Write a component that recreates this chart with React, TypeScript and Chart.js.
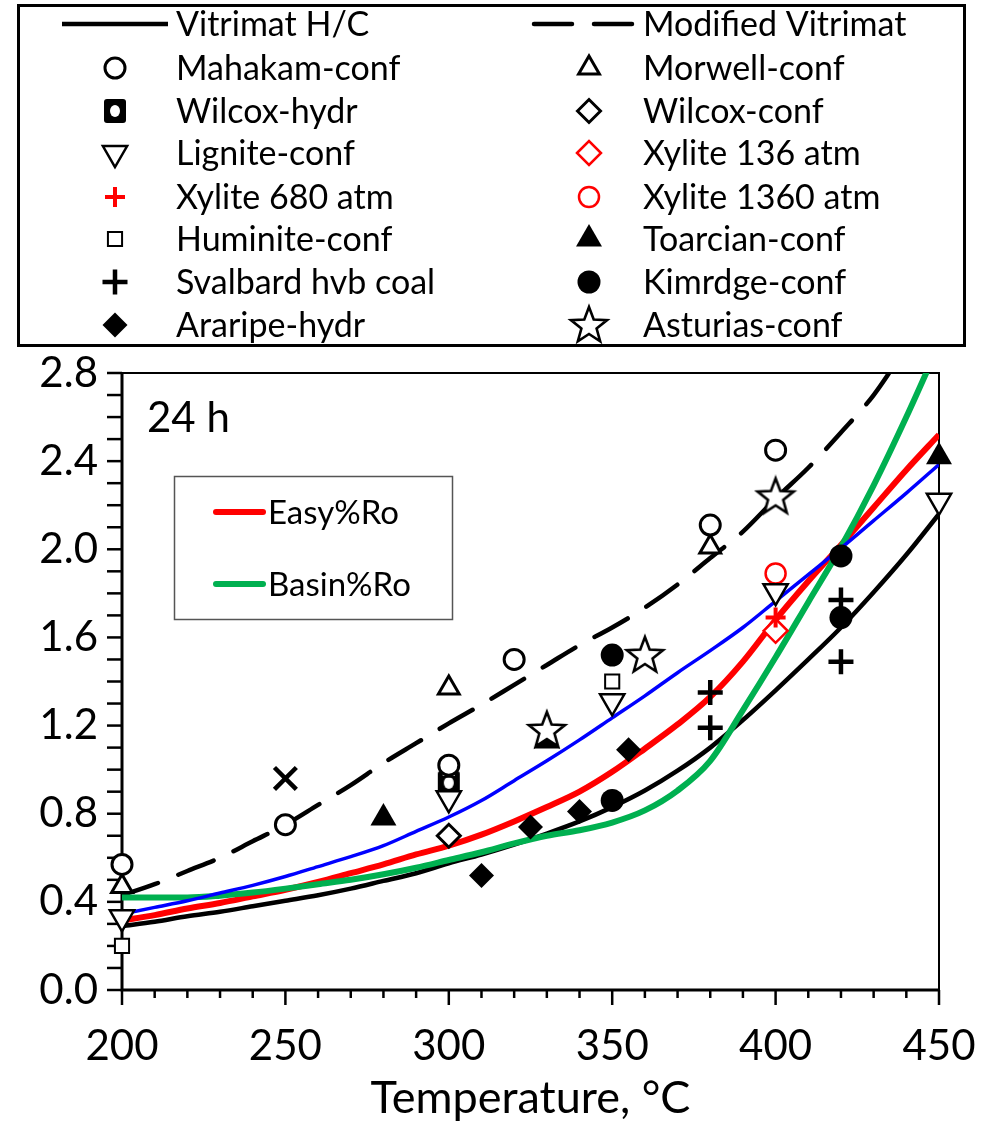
import React, { useEffect, useRef } from 'react';
import { Chart, registerables } from 'chart.js';
import { drawPoint } from 'chart.js/helpers';

Chart.register(...registerables);

const FONT = 'Lato, "Open Sans", sans-serif';

// ---- axis ticks ----
const xTicks = [200, 250, 300, 350, 400, 450];
const yTicks = [0, 0.4, 0.8, 1.2, 1.6, 2.0, 2.4, 2.8];

// ---- model curves (temperature, °C) ----
const curveT = [200, 210, 220, 230, 240, 250, 260, 270, 280, 290, 300, 310, 320, 330, 340, 350, 360, 370, 380, 390, 400, 410, 420, 430, 440, 450];
const vitrimatHC = [0.29, 0.31, 0.335, 0.355, 0.38, 0.405, 0.43, 0.46, 0.495, 0.53, 0.575, 0.615, 0.66, 0.71, 0.765, 0.83, 0.905, 0.995, 1.1, 1.225, 1.36, 1.5, 1.645, 1.805, 1.975, 2.16];
const modifiedVitrimat = [0.43, 0.48, 0.54, 0.6, 0.675, 0.75, 0.84, 0.93, 1.03, 1.12, 1.21, 1.295, 1.385, 1.475, 1.565, 1.645, 1.735, 1.84, 1.96, 2.08, 2.23, 2.37, 2.53, 2.7, 2.92, 3.15];
const easyRo = [0.315, 0.34, 0.37, 0.395, 0.425, 0.455, 0.49, 0.53, 0.57, 0.615, 0.655, 0.705, 0.765, 0.83, 0.9, 0.99, 1.095, 1.205, 1.33, 1.49, 1.68, 1.855, 2.02, 2.19, 2.36, 2.52];
const basinRo = [0.42, 0.42, 0.42, 0.428, 0.442, 0.46, 0.48, 0.5, 0.525, 0.555, 0.59, 0.625, 0.665, 0.7, 0.725, 0.76, 0.815, 0.905, 1.04, 1.27, 1.51, 1.76, 2.01, 2.29, 2.6, 2.93];
const blueCurve = [0.345, 0.375, 0.405, 0.44, 0.475, 0.515, 0.56, 0.605, 0.655, 0.72, 0.785, 0.86, 0.95, 1.04, 1.135, 1.235, 1.335, 1.44, 1.54, 1.645, 1.765, 1.885, 2.005, 2.13, 2.255, 2.385];

// ---- measured %Ro ----
const mahakamT = [200, 250, 300, 320, 380, 400];
const mahakamRo = [0.57, 0.75, 1.02, 1.5, 2.11, 2.45];
const morwellT = [200, 300, 380];
const morwellRo = [0.47, 1.37, 2.01];
const wilcoxHydrT = [300];
const wilcoxHydrRo = [0.94];
const wilcoxConfT = [300];
const wilcoxConfRo = [0.7];
const ligniteT = [200, 300, 350, 400, 450];
const ligniteRo = [0.33, 0.87, 1.31, 1.81, 2.22];
const xylite136T = [400];
const xylite136Ro = [1.63];
const xylite680T = [400];
const xylite680Ro = [1.69];
const xylite1360T = [400];
const xylite1360Ro = [1.89];
const huminiteT = [200, 300, 350];
const huminiteRo = [0.2, 1.0, 1.4];
const toarcianT = [280, 330, 450];
const toarcianRo = [0.78, 1.13, 2.42];
const svalbardT = [380, 380, 420, 420];
const svalbardRo = [1.35, 1.19, 1.77, 1.49];
const kimrdgeT = [350, 350, 420, 420];
const kimrdgeRo = [0.86, 1.52, 1.97, 1.69];
const araripeT = [310, 325, 340, 355];
const araripeRo = [0.52, 0.74, 0.81, 1.09];
const asturiasT = [330, 360, 400];
const asturiasRo = [1.18, 1.52, 2.24];
const otherT = [250];
const otherRo = [0.96];

const legendLeft = ['Vitrimat H/C', 'Mahakam-conf', 'Wilcox-hydr', 'Lignite-conf', 'Xylite 680 atm', 'Huminite-conf', 'Svalbard hvb coal', 'Araripe-hydr'];
const legendRight = ['Modified Vitrimat', 'Morwell-conf', 'Wilcox-conf', 'Xylite 136 atm', 'Xylite 1360 atm', 'Toarcian-conf', 'Kimrdge-conf', 'Asturias-conf'];
const innerLegend = ['Easy%Ro', 'Basin%Ro'];

function makeStar(): HTMLCanvasElement {
  const c = document.createElement('canvas');
  c.width = 44; c.height = 44;
  const g = c.getContext('2d')!;
  const cx = 22, cy = 23, R = 19, r = 8;
  g.beginPath();
  for (let i = 0; i < 10; i++) {
    const ang = -Math.PI / 2 + (i * Math.PI) / 5;
    const rr = i % 2 === 0 ? R : r;
    const px = cx + rr * Math.cos(ang);
    const py = cy + rr * Math.sin(ang);
    if (i === 0) g.moveTo(px, py); else g.lineTo(px, py);
  }
  g.closePath();
  g.fillStyle = '#fff';
  g.fill();
  g.lineWidth = 2.6;
  g.lineJoin = 'miter';
  g.strokeStyle = '#000';
  g.stroke();
  return c;
}

function makeWilcox(): HTMLCanvasElement {
  const c = document.createElement('canvas');
  c.width = 24; c.height = 26;
  const g = c.getContext('2d')!;
  g.fillStyle = '#000';
  g.beginPath();
  (g as any).roundRect ? (g as any).roundRect(1, 1, 22, 24, 3) : g.rect(1, 1, 22, 24);
  g.fill();
  g.fillStyle = '#fff';
  g.beginPath();
  g.ellipse(12, 13, 5, 6, 0, 0, Math.PI * 2);
  g.fill();
  return c;
}

const pts = (xs: number[], ys: number[]) => xs.map((x, i) => ({ x, y: ys[i] }));

function marker(label: string, xs: number[], ys: number[], style: any, radius: number, fill: string, border: string, bw: number, rotation = 0) {
  return {
    label,
    data: pts(xs, ys),
    showLine: false,
    pointStyle: style,
    pointRadius: radius,
    pointHoverRadius: radius,
    pointBackgroundColor: fill,
    pointBorderColor: border,
    pointBorderWidth: bw,
    pointRotation: rotation,
    borderColor: border,
    backgroundColor: fill,
    clip: false,
    order: 0,
  };
}

function curve(label: string, ys: number[], color: string, width: number, order: number, dash?: number[]) {
  return {
    label,
    data: pts(curveT, ys),
    borderColor: color,
    backgroundColor: color,
    borderWidth: width,
    borderDash: dash || [],
    borderCapStyle: dash ? 'round' : 'butt',
    pointRadius: 0,
    pointHoverRadius: 0,
    fill: false,
    cubicInterpolationMode: 'monotone',
    order,
  };
}

function drawMarker(ctx: CanvasRenderingContext2D, ds: any, x: number, y: number) {
  ctx.save();
  ctx.fillStyle = ds.pointBackgroundColor;
  ctx.strokeStyle = ds.pointBorderColor;
  ctx.lineWidth = ds.pointBorderWidth;
  ctx.setLineDash([]);
  drawPoint(ctx, { pointStyle: ds.pointStyle, rotation: ds.pointRotation || 0, radius: ds.pointRadius, borderWidth: ds.pointBorderWidth } as any, x, y);
  ctx.restore();
}

function drawLineSample(ctx: CanvasRenderingContext2D, ds: any, x1: number, x2: number, y: number, cap: CanvasLineCap) {
  ctx.save();
  ctx.strokeStyle = ds.borderColor;
  ctx.lineWidth = ds.borderWidth;
  ctx.lineCap = cap;
  ctx.setLineDash(ds.borderDash || []);
  ctx.beginPath();
  ctx.moveTo(x1, y);
  ctx.lineTo(x2, y);
  ctx.stroke();
  ctx.restore();
}

const decor = {
  id: 'decor',
  beforeDatasetsDraw(chart: any) {
    const { ctx, chartArea: a, scales } = chart;
    const x = scales.x, y = scales.y;
    ctx.save();
    ctx.strokeStyle = '#000';
    ctx.lineWidth = 2.5;
    for (let i = 0; i <= 28; i++) {
      const py = y.getPixelForValue(i / 10);
      ctx.beginPath();
      ctx.moveTo(a.left - 15, py);
      ctx.lineTo(a.left, py);
      ctx.stroke();
    }
    for (let t = 200; t <= 450; t += 10) {
      const px = x.getPixelForValue(t);
      const len = t % 50 === 0 ? 15 : 8;
      ctx.beginPath();
      ctx.moveTo(px, a.bottom);
      ctx.lineTo(px, a.bottom + len);
      ctx.stroke();
    }
    ctx.lineWidth = 2;
    ctx.beginPath();
    ctx.moveTo(a.left, a.top);
    ctx.lineTo(a.right, a.top);
    ctx.lineTo(a.right, a.bottom);
    ctx.stroke();
    ctx.lineWidth = 3;
    ctx.beginPath();
    ctx.moveTo(a.left, a.top - 1);
    ctx.lineTo(a.left, a.bottom);
    ctx.lineTo(a.right + 1, a.bottom);
    ctx.stroke();

    // "24 h"
    ctx.fillStyle = '#000';
    ctx.font = `42px ${FONT}`;
    ctx.textBaseline = 'alphabetic';
    ctx.fillText('24 h', 147, 432);
    ctx.restore();
  },
  afterDraw(chart: any) {
    const { ctx } = chart;
    const dsets = chart.data.datasets as any[];
    const find = (l: string) => dsets.find((d) => d.label === l);
    ctx.save();
    // inner legend box
    ctx.fillStyle = '#fff';
    ctx.fillRect(174.5, 476.5, 278, 143);
    ctx.strokeStyle = '#555';
    ctx.lineWidth = 1.5;
    ctx.strokeRect(174.5, 476.5, 278, 143);
    const innerY = [512, 584];
    ctx.font = `33px ${FONT}`;
    ctx.textBaseline = 'alphabetic';
    innerLegend.forEach((l, i) => {
      const ds = find(l);
      drawLineSample(ctx, ds, 216, 263, innerY[i], 'round');
      ctx.fillStyle = '#000';
      ctx.fillText(l, 268, innerY[i] + 12);
    });

    // top legend box
    ctx.strokeStyle = '#000';
    ctx.lineWidth = 3;
    ctx.strokeRect(18.5, 5.5, 946, 340);
    const rows = [24, 68, 111, 153, 197, 239, 282, 325];
    ctx.font = `34px ${FONT}`;
    const cols = [
      { labels: legendLeft, mx: 115, l1: 62, l2: 168, tx: 176 },
      { labels: legendRight, mx: 589, l1: 534, l2: 634, tx: 643 },
    ];
    cols.forEach((c) => {
      c.labels.forEach((l, i) => {
        const ds = find(l);
        const y = rows[i];
        if (ds.pointRadius === 0) {
          drawLineSample(ctx, ds, c.l1, c.l2, y, ds.borderDash && ds.borderDash.length ? 'round' : 'butt');
        } else {
          drawMarker(ctx, ds, c.mx, y);
        }
        ctx.fillStyle = '#000';
        ctx.fillText(l, c.tx, y + 12);
      });
    });
    ctx.restore();
  },
};

export default function App() {
  const ref = useRef<HTMLCanvasElement>(null);
  useEffect(() => {
    if (!ref.current) return;
    const star = makeStar();
    const wilcox = makeWilcox();
    const datasets: any[] = [
      marker('Asturias-conf', asturiasT, asturiasRo, star, 19, '#fff', '#000', 2.6),
      marker('Lignite-conf', ligniteT, ligniteRo, 'triangle', 14, '#fff', '#000', 2.5, 180),
      marker('Mahakam-conf', mahakamT, mahakamRo, 'circle', 10, '#fff', '#000', 3),
      marker('Huminite-conf', huminiteT, huminiteRo, 'rect', 10, '#fff', '#000', 2),
      marker('Kimrdge-conf', kimrdgeT, kimrdgeRo, 'circle', 11.5, '#000', '#000', 0),
      marker('Morwell-conf', morwellT, morwellRo, 'triangle', 12, '#fff', '#000', 3),
      marker('Wilcox-hydr', wilcoxHydrT, wilcoxHydrRo, wilcox, 12, '#000', '#000', 0),
      marker('Wilcox-conf', wilcoxConfT, wilcoxConfRo, 'rectRot', 11.5, '#fff', '#000', 3),
      marker('Xylite 1360 atm', xylite1360T, xylite1360Ro, 'circle', 10, '#fff', '#ff0000', 2.5),
      marker('Xylite 680 atm', xylite680T, xylite680Ro, 'cross', 10, '#ff0000', '#ff0000', 4),
      marker('Xylite 136 atm', xylite136T, xylite136Ro, 'rectRot', 12, '#fff', '#ff0000', 2.5),
      marker('Svalbard hvb coal', svalbardT, svalbardRo, 'cross', 12.5, '#000', '#000', 4.5),
      marker('Toarcian-conf', toarcianT, toarcianRo, 'triangle', 15, '#000', '#000', 0),
      marker('Araripe-hydr', araripeT, araripeRo, 'rectRot', 12.5, '#000', '#000', 0),
      marker('', otherT, otherRo, 'crossRot', 15.5, '#000', '#000', 4.5),
      curve('', blueCurve, '#0000ff', 3.5, 1),
      curve('Basin%Ro', basinRo, '#00b050', 6, 2),
      curve('Easy%Ro', easyRo, '#ff0000', 6, 3),
      curve('Modified Vitrimat', modifiedVitrimat, '#000', 4.5, 4, [38, 22]),
      curve('Vitrimat H/C', vitrimatHC, '#000', 4.5, 5),
    ];
    const chart = new Chart(ref.current, {
      type: 'line',
      data: { datasets },
      options: {
        animation: false,
        responsive: false,
        events: [],
        layout: { autoPadding: false, padding: { top: 373, right: 47, left: 0, bottom: 0 } },
        plugins: { legend: { display: false }, tooltip: { enabled: false }, title: { display: false } },
        scales: {
          x: {
            type: 'linear',
            min: 200,
            max: 450,
            grid: { display: true, drawOnChartArea: false, drawTicks: true, tickLength: 31, tickColor: 'rgba(0,0,0,0)', color: 'rgba(0,0,0,0)' },
            border: { display: false },
            ticks: {
              color: '#000',
              font: { family: FONT, size: 42 },
              padding: 0,
              maxRotation: 0,
              autoSkip: false,
              callback: (v: any) => String(v),
            },
            afterBuildTicks: (s: any) => { s.ticks = xTicks.map((v) => ({ value: v })); },
            afterFit: (s: any) => { s.height = 138; s.paddingLeft = 0; s.paddingRight = 0; },
            title: {
              display: true,
              text: 'Temperature, °C',
              color: '#000',
              font: { family: FONT, size: 45, lineHeight: 1 },
              padding: { top: 0, bottom: 7 },
            },
          },
          y: {
            type: 'linear',
            min: 0,
            max: 2.8,
            grid: { display: false, drawTicks: false },
            border: { display: false },
            ticks: {
              color: '#000',
              font: { family: FONT, size: 42 },
              padding: 24,
              autoSkip: false,
              callback: (v: any) => Number(v).toFixed(1),
            },
            afterBuildTicks: (s: any) => { s.ticks = yTicks.map((v) => ({ value: v })); },
            afterFit: (s: any) => { s.width = 122; s.paddingTop = 0; s.paddingBottom = 0; },
          },
        },
      } as any,
      plugins: [decor],
    });
    return () => chart.destroy();
  }, []);
  return (
    <div style={{ position: 'absolute', left: 0, top: 0, width: 986, height: 1128 }}>
      <canvas ref={ref} width={986} height={1128} style={{ display: 'block' }} />
    </div>
  );
}
